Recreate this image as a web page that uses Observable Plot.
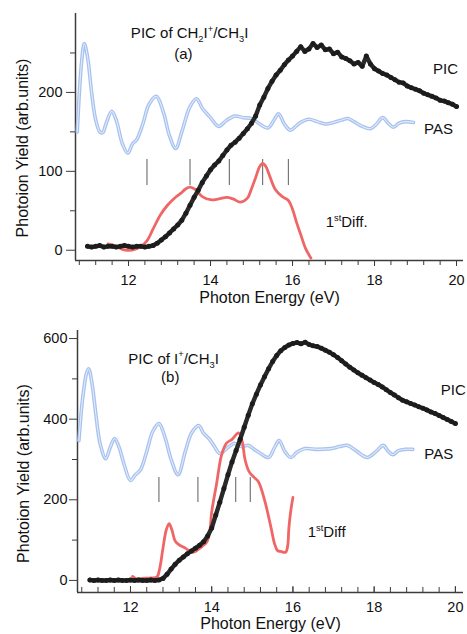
<!DOCTYPE html>
<html><head><meta charset="utf-8">
<script src="https://cdn.jsdelivr.net/npm/d3@7"></script>
<script src="https://cdn.jsdelivr.net/npm/@observablehq/plot@0.6"></script>
<style>
body{margin:0;background:#fff;}
#chart{width:467px;height:634px;overflow:hidden;background:#fff;}
#chart svg{display:block;}
</style></head><body><div id="chart"></div>
<script>
// ---------- shared ticks ----------
const xMajorTicks = [12, 14, 16, 18, 20];
const xMinorTicks = d3.range(108, 201, 4).map(d => d / 10);
const yMajorTicksA = [0, 100, 200];
const yMinorTicksA = [50, 150, 250];
const yMajorTicksB = [0, 200, 400, 600];
const yMinorTicksB = [100, 300, 500];

// ---------- panel (a): PIC of CH2I+/CH3I ----------
const picEnergy = d3.range(110, 201).map(d => d / 10); // 11.0 ... 20.0 eV
const picA = [
  5,4,5,6,4,5,5,4,5,6,5,4,5,5,4,5,
  6,9,13,17,22,27,32,38,47,57,
  67,76,86,94,102,108,113,120,127,133,
  137,142,148,154,161,170,184,194,205,214,
  222,228,235,241,246,252,258,252,255,262,
  257,260,254,255,249,251,245,243,240,236,
  238,233,246,236,230,227,224,222,219,216,
  213,212,208,206,204,202,199,197,195,193,
  190,189,187,185,182
];
const pasAEnergy = [10.75,10.85,10.92,11.0,11.1,11.2,11.3,11.37,11.45,11.59,11.7,11.85,11.98,12.1,12.2,12.35,12.5,12.68,12.85,13.0,13.15,13.3,13.5,13.66,13.8,14.0,14.2,14.4,14.6,14.8,15.0,15.2,15.4,15.55,15.66,15.8,15.95,16.1,16.2,16.4,16.6,16.8,17.0,17.2,17.35,17.5,17.7,17.9,18.05,18.2,18.35,18.46,18.6,18.75,18.95];
const pasAValue  = [150,235,262,245,200,165,150,149,160,176,165,135,123,135,140,160,185,195,175,145,129,150,182,192,180,168,157,165,170,168,167,160,155,165,173,160,152,158,162,166,163,160,162,165,167,163,157,154,160,168,160,156,161,163,162];
const diffAEnergy = [11.5,11.7,11.85,12.0,12.15,12.3,12.45,12.6,12.78,12.95,13.1,13.27,13.4,13.5,13.63,13.8,14.0,14.2,14.4,14.55,14.73,14.9,15.0,15.1,15.2,15.27,15.35,15.45,15.58,15.75,15.9,16.0,16.1,16.2,16.32,16.45];
const diffAValue  = [8,5,1,0,1,5,12,27,45,57,65,72,78,80,77,68,64,65,67,65,61,66,78,92,106,110,106,93,77,68,63,52,35,20,2,-10];
const markersA = [12.45, 13.5, 14.46, 15.27, 15.9];
const markerSpanA = [82, 115];

// ---------- panel (b): PIC of I+/CH3I ----------
const picB = [
  1,0,1,0,0,1,0,1,0,0,1,0,1,0,0,1,0,1,
  5,15,28,40,50,58,66,73,80,87,
  96,110,130,162,194,228,262,294,322,350,
  380,410,438,462,485,505,525,543,558,570,
  578,584,588,590,587,591,585,582,580,576,
  571,566,560,553,545,537,529,522,515,509,
  503,497,491,486,480,473,466,460,453,447,
  443,439,435,431,427,423,418,414,409,404,
  399,394,389
];
const pasBEnergy = [10.73,10.82,10.92,10.97,11.05,11.15,11.25,11.39,11.5,11.61,11.72,11.85,12.0,12.12,12.25,12.4,12.55,12.7,12.85,13.0,13.17,13.35,13.5,13.68,13.8,13.93,14.05,14.2,14.4,14.56,14.73,14.9,15.05,15.2,15.4,15.55,15.66,15.8,15.95,16.1,16.3,16.6,16.93,17.15,17.34,17.55,17.83,18.05,18.22,18.35,18.46,18.6,18.75,18.95];
const pasBValue  = [347,450,515,525,490,410,340,302,330,352,330,285,248,262,275,320,370,389,355,300,262,320,365,384,365,352,335,315,330,340,332,335,325,315,305,330,347,320,305,318,327,325,327,332,335,322,305,320,335,320,312,322,325,325];
const diffBEnergy = [12.05,12.15,12.3,12.5,12.65,12.72,12.8,12.88,12.95,13.02,13.1,13.2,13.35,13.5,13.6,13.76,13.88,13.95,14.0,14.12,14.24,14.36,14.5,14.66,14.75,14.82,14.92,15.05,15.15,15.3,15.46,15.55,15.62,15.7,15.82,15.87,15.9,15.95,16.0];
const diffBValue  = [10,4,5,6,8,30,80,125,141,125,98,88,80,70,72,84,95,120,170,240,310,340,350,366,345,300,270,255,245,200,131,90,74,72,70,85,130,175,206];
const markersB = [12.7, 13.66, 14.59, 14.95];
const markerSpanB = [193, 255];

// ---------- labels ----------
const annotA = [
  {x: 13.49, y: 275, t: "PIC of CH_{2}I^{+}/CH_{3}I", a: "middle"},
  {x: 13.34, y: 249, t: "(a)", a: "middle"},
  {x: 19.73, y: 230, t: "PIC", a: "middle"},
  {x: 19.56, y: 154, t: "PAS", a: "middle"},
  {x: 17.32, y: 35,  t: "1^{st}Diff.", a: "middle"}
];
const annotB = [
  {x: 13.06, y: 550, t: "PIC of I^{+}/CH_{3}I", a: "middle"},
  {x: 12.98, y: 503, t: "(b)", a: "middle"},
  {x: 19.64, y: 471, t: "PIC", a: "start"},
  {x: 19.59, y: 312, t: "PAS", a: "middle"},
  {x: 16.83, y: 119, t: "1^{st}Diff", a: "middle"}
];
const xTitle = "Photon Energy (eV)";
const yTitle = "Photoion Yield (arb.units)";

// ---------- styling ----------
const axisColor = "#3c3c3c";
const pasColor = "#a8c2ee";
const pasInner = "#e2ebfb";
const diffColor = "#f06666";
const picColor = "#1c1c1c";
const font = "'Liberation Sans', Arial, Helvetica, sans-serif";

const toRows = (xs, ys) => xs.map((e, i) => ({e, v: ys[i]}));

function panel(o) {
  const pic = toRows(picEnergy, o.pic);
  const pas = toRows(o.pasE, o.pasV);
  const diff = toRows(o.diffE, o.diffV);
  const textOpts = {x: "x", y: "y", text: "t", fontSize: 15, fill: "#111"};
  return Plot.plot({
    width: 467, height: o.height,
    marginLeft: o.ml, marginRight: o.mr, marginTop: o.mt, marginBottom: o.mb,
    style: {fontFamily: font, fontSize: "14.5px", color: "#111", background: "white", overflow: "visible"},
    x: {domain: o.xDomain, axis: null},
    y: {domain: o.yDomain, axis: null},
    marks: [
      Plot.ruleX([o.xDomain[0]], {stroke: axisColor, strokeWidth: 1.5}),
      Plot.ruleY([o.yDomain[0]], {stroke: axisColor, strokeWidth: 1.5}),
      Plot.axisX(xMinorTicks, {anchor: "bottom", tickSize: o.xMinorSize, tickFormat: () => "", label: null, stroke: axisColor}),
      Plot.axisX(xMajorTicks, {anchor: "bottom", tickSize: o.xMajorSize, tickPadding: o.xPad, label: null, stroke: axisColor, fontSize: 14.5}),
      Plot.axisY(o.yMinor, {anchor: "left", tickSize: 5, tickFormat: () => "", label: null, stroke: axisColor}),
      Plot.axisY(o.yMajor, {anchor: "left", tickSize: o.yTick, tickPadding: o.yPad, label: null, stroke: axisColor, fontSize: 14.5}),
      Plot.line(pas, {x: "e", y: "v", curve: "catmull-rom", stroke: pasColor, strokeWidth: 3.6}),
      Plot.line(pas, {x: "e", y: "v", curve: "catmull-rom", stroke: pasInner, strokeWidth: 1.1}),
      Plot.ruleX(o.markers, {y1: o.markerSpan[0], y2: o.markerSpan[1], stroke: "#777", strokeWidth: 1.2}),
      Plot.line(diff, {x: "e", y: "v", curve: "catmull-rom", stroke: diffColor, strokeWidth: 2.8}),
      Plot.line(pic, {x: "e", y: "v", stroke: "#2a2a2a", strokeWidth: 4.4}),
      Plot.dot(pic, {x: "e", y: "v", r: 2.5, fill: picColor, stroke: null}),
      Plot.text(o.annot.filter(d => d.a === "middle"), {...textOpts, textAnchor: "middle"}),
      Plot.text(o.annot.filter(d => d.a === "start"), {...textOpts, textAnchor: "start"}),
      Plot.text([xTitle], {frameAnchor: "bottom", textAnchor: "middle", dy: o.xTitleDy, fontSize: 16, fill: "#111"}),
      Plot.text([yTitle], {frameAnchor: "left", textAnchor: "middle", rotate: -90, dx: o.yTitleDx, dy: o.yTitleDy, fontSize: 16, fill: "#111"})
    ]
  });
}

function richify(svg) {
  svg.querySelectorAll("text").forEach(t => {
    const s = t.textContent;
    if (!/[_^]\{/.test(s)) return;
    const fs = parseFloat(getComputedStyle(t).fontSize) || 15;
    while (t.firstChild) t.removeChild(t.firstChild);
    const re = /([_^])\{([^}]*)\}|([^_^]+)/g;
    let m, shift = 0;
    while ((m = re.exec(s))) {
      const ts = document.createElementNS("http://www.w3.org/2000/svg", "tspan");
      if (m[3] !== undefined) {
        ts.textContent = m[3];
        if (shift) { ts.setAttribute("dy", -shift); shift = 0; }
      } else {
        const d = m[1] === "_" ? 0.28 * fs : -0.42 * fs;
        ts.setAttribute("font-size", 0.62 * fs);
        ts.setAttribute("dy", d - shift);
        shift = d;
        ts.textContent = m[2];
      }
      t.appendChild(ts);
    }
  });
}

const A = panel({
  height: 310, ml: 75, mr: 4, mt: 13, mb: 50,
  xDomain: [10.707, 20.17], yDomain: [-13, 300],
  pic: picA, pasE: pasAEnergy, pasV: pasAValue, diffE: diffAEnergy, diffV: diffAValue,
  markers: markersA, markerSpan: markerSpanA, annot: annotA,
  yMajor: yMajorTicksA, yMinor: yMinorTicksA,
  xMinorSize: 5, xMajorSize: 6, xPad: 8, yTick: 9, yPad: 4,
  xTitleDy: 42, yTitleDx: -53, yTitleDy: 11
});
const B = panel({
  height: 324, ml: 77, mr: 4, mt: 20, mb: 42,
  xDomain: [10.695, 20.2], yDomain: [-30, 620],
  pic: picB, pasE: pasBEnergy, pasV: pasBValue, diffE: diffBEnergy, diffV: diffBValue,
  markers: markersB, markerSpan: markerSpanB, annot: annotB,
  yMajor: yMajorTicksB, yMinor: yMinorTicksB,
  xMinorSize: -5, xMajorSize: -6, xPad: 15, yTick: 8, yPad: 2,
  xTitleDy: 36, yTitleDx: -54, yTitleDy: 12
});
const chart = document.getElementById("chart");
chart.appendChild(A);
chart.appendChild(B);
richify(A);
richify(B);
</script></body></html>
